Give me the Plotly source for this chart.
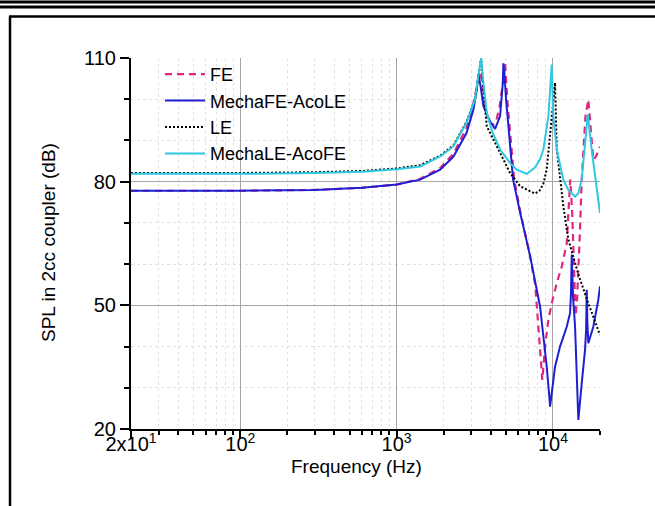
import plotly.graph_objects as go

# ---------------- data ----------------
fe_f = [20, 100, 300, 600, 1000, 1416, 1900, 2310, 2800, 3100, 3300, 3400, 3500, 3650,
        3800, 4000, 4150, 4350, 4550, 4750, 4944, 5100, 5400, 5650, 6200, 7100, 7700,
        8100, 8400, 8552, 8904, 9348, 9826, 10578, 11386, 12252, 12548, 12900, 13300,
        13550, 13800, 13950, 14250, 14540, 14894, 15284, 15646, 16150, 16840, 17442,
        18120, 18854, 19500, 20000]
fe_db = [77.8, 77.8, 78.0, 78.5, 79.3, 80.7, 83.3, 86.8, 93.0, 99.0, 104.0, 106.5, 105.0, 99.5,
         95.5, 94.2, 93.8, 95.0, 98.0, 103.0, 109.0, 100.0, 88.0, 80.5, 72.5, 62.5, 55.0,
         45.0, 36.0, 31.9, 40.0, 46.5, 50.5, 55.4, 59.4, 65.0, 72.0, 80.5, 72.0,
         62.0, 50.0, 47.5, 51.0, 57.8, 68.3, 80.5, 87.0, 95.9, 99.9, 91.8,
         85.3, 86.1, 87.8, 88.5]

mfe_f = [20, 100, 300, 600, 1000, 1416, 1900, 2310, 2800, 3100, 3250, 3338, 3450, 3592,
         3964, 4266, 4592, 4700, 4780, 4820, 4900, 5016, 5320, 5560, 6166, 7140, 8274,
         8686, 9128, 9484, 9584, 9826, 10316, 11104, 12252, 12864, 13050, 13190, 13450,
         13846, 14200, 14540, 15284, 16044, 16300, 16448, 16600, 16840, 18120, 19500, 20000]
mfe_db = [77.8, 77.8, 78.0, 78.5, 79.3, 80.5, 82.9, 86.1, 91.8, 97.5, 102.0, 106.0, 103.0, 98.3,
          94.6, 92.8, 95.9, 100.0, 104.0, 108.7, 106.0, 99.9, 87.8, 80.5, 72.5, 62.0, 49.7,
          43.2, 35.1, 27.8, 25.4, 28.7, 35.1, 40.0, 44.8, 48.1, 53.0, 62.3, 52.0,
          45.0, 33.0, 22.2, 31.1, 39.2, 44.0, 53.8, 46.0, 40.8, 44.8, 51.3, 54.6]

le_f = [20, 100, 300, 600, 1000, 1416, 1900, 2310, 2800, 3170, 3380, 3472, 3592, 3776,
        4376, 5070, 5320, 6166, 7688, 8200, 8686, 9128, 9584, 10016, 10316, 10578, 11104,
        11658, 12548, 13846, 14540, 16840, 19500, 20000]
le_db = [82.1, 82.1, 82.3, 82.6, 83.2, 84.0, 86.3, 88.8, 94.5, 100.0, 107.0, 110.0, 102.0, 93.4,
         88.6, 83.7, 82.1, 78.9, 77.1, 77.8, 79.5, 83.0, 91.8, 99.0, 104.0, 88.0, 80.5,
         74.0, 66.0, 60.0, 57.5, 50.5, 43.5, 42.8]

mle_f = [20, 100, 300, 600, 1000, 1416, 1900, 2310, 2800, 3170, 3380, 3472, 3592, 3776,
         4100, 4592, 5320, 5874, 6800, 7700, 8274, 8686, 9356, 9700, 9827, 10050, 10578,
         11650, 12550, 13846, 14540, 15284, 16044, 16690, 17690, 18500, 19430, 20000]
mle_db = [81.9, 81.9, 82.1, 82.4, 83.0, 83.7, 86.1, 88.6, 94.3, 99.9, 107.2, 110.0, 104.0, 96.7,
          92.0, 87.8, 84.5, 82.9, 81.9, 83.5, 85.5, 87.8, 95.9, 104.0, 108.4, 95.9, 87.8,
          80.5, 78.0, 76.4, 77.2, 80.5, 90.2, 96.3, 87.8, 82.0, 77.0, 72.4]

x_tickvals = [20, 100, 1000, 10000]
x_ticktext = ["2x10<sup>1</sup>", "10<sup>2</sup>", "10<sup>3</sup>", "10<sup>4</sup>"]
x_minorvals = [30, 40, 50, 60, 70, 80, 90, 200, 300, 400, 500, 600, 700, 800, 900,
               2000, 3000, 4000, 5000, 6000, 7000, 8000, 9000, 20000]
y_tickvals = [20, 50, 80, 110]
y_gridvals = [50, 80]

x_title = "Frequency (Hz)"
y_title = "SPL in 2cc coupler (dB)"

# ---------------- layout helpers ----------------
W, H = 655, 506
L, R, T, B = 131, 55, 58, 77
PW, PH = W - L - R, H - T - B

def px_x(p):
    return (p - L) / PW

def px_y(p):
    return (H - B - p) / PH

FONT = "Liberation Sans, Arial, sans-serif"
tick_font = dict(family=FONT, size=20, color="#000000")
title_font = dict(family=FONT, size=19, color="#000000")

fig = go.Figure()
# empty helper trace so that the base (grid-only) axis is drawn
fig.add_trace(go.Scatter(x=[None], y=[None], mode="lines", showlegend=False,
                         hoverinfo="skip", yaxis="y"))
fig.add_trace(go.Scatter(x=fe_f, y=fe_db, name="FE", mode="lines", yaxis="y2",
                         line=dict(color="#E0267F", width=2.2, dash="7px,5px")))
fig.add_trace(go.Scatter(x=mfe_f, y=mfe_db, name="MechaFE-AcoLE", mode="lines", yaxis="y2",
                         line=dict(color="#1F1FD2", width=2)))
fig.add_trace(go.Scatter(x=le_f, y=le_db, name="LE", mode="lines", yaxis="y2",
                         line=dict(color="#000000", width=2, dash="2px,2px")))
fig.add_trace(go.Scatter(x=mle_f, y=mle_db, name="MechaLE-AcoFE", mode="lines", yaxis="y2",
                         line=dict(color="#2EC8E0", width=2)))

fig.update_layout(
    width=W, height=H,
    margin=dict(l=L, r=R, t=T, b=B, pad=0),
    paper_bgcolor="white", plot_bgcolor="white",
    font=dict(family=FONT, size=18, color="#000000"),
    showlegend=True,
    legend=dict(x=px_x(160), y=px_y(56), xanchor="left", yanchor="top",
                bgcolor="rgba(0,0,0,0)", font=dict(family=FONT, size=18, color="#000"),
                itemwidth=40, tracegroupgap=0),
    xaxis=dict(type="log", range=[1.30103, 4.30103],
               tickmode="array", tickvals=x_tickvals, ticktext=x_ticktext,
               ticks="outside", ticklen=7, tickwidth=1.5, tickcolor="#000",
               ticklabelstandoff=-11,
               showline=True, linecolor="#000", linewidth=2,
               showgrid=True, gridcolor="#A6A6A6", gridwidth=1,
               tickfont=tick_font, zeroline=False,
               minor=dict(tickmode="array", tickvals=x_minorvals, ticks="outside",
                          ticklen=4, tickwidth=1.5, tickcolor="#000",
                          showgrid=True, gridcolor="#E2E2E2", griddash="dot", gridwidth=1)),
    yaxis=dict(range=[20, 110], tickmode="array", tickvals=y_gridvals,
               showticklabels=False, ticks="", showline=False, zeroline=False,
               showgrid=True, gridcolor="#A6A6A6", gridwidth=1),
    yaxis2=dict(range=[20, 110], overlaying="y", side="left",
                tickmode="array", tickvals=y_tickvals,
                ticks="outside", ticklen=9, tickwidth=1.5, tickcolor="#000",
                showline=True, linecolor="#000", linewidth=2,
                showgrid=False, zeroline=False, tickfont=tick_font,
                minor=dict(dtick=10, ticks="outside", ticklen=5, tickwidth=1.5, tickcolor="#000",
                           showgrid=True, gridcolor="#E2E2E2", griddash="dot", gridwidth=1)),
    annotations=[
        dict(text=x_title, xref="paper", yref="paper", x=px_x(356), y=px_y(466),
             xanchor="center", yanchor="middle", showarrow=False, font=title_font),
        dict(text=y_title, xref="paper", yref="paper", x=px_x(48), y=px_y(243),
             xanchor="center", yanchor="middle", showarrow=False, textangle=-90,
             font=title_font),
    ],
)

# decorative page frame (as in the source figure)
frame = dict(type="line", xref="paper", yref="paper", line=dict(color="#000000"))
fig.add_shape(**frame, x0=px_x(0), x1=px_x(W), y0=px_y(2), y1=px_y(2), line_width=3)
fig.add_shape(**frame, x0=px_x(0), x1=px_x(W), y0=px_y(7), y1=px_y(7), line_width=3)
fig.add_shape(**frame, x0=px_x(9), x1=px_x(W), y0=px_y(16.5), y1=px_y(16.5), line_width=2.5)
fig.add_shape(**frame, x0=px_x(10), x1=px_x(10), y0=px_y(16.5), y1=px_y(H), line_width=2.5)

fig.write_html("out.html", config={"displayModeBar": False},
               post_script="document.body.style.margin='0';document.body.style.overflow='hidden';")
